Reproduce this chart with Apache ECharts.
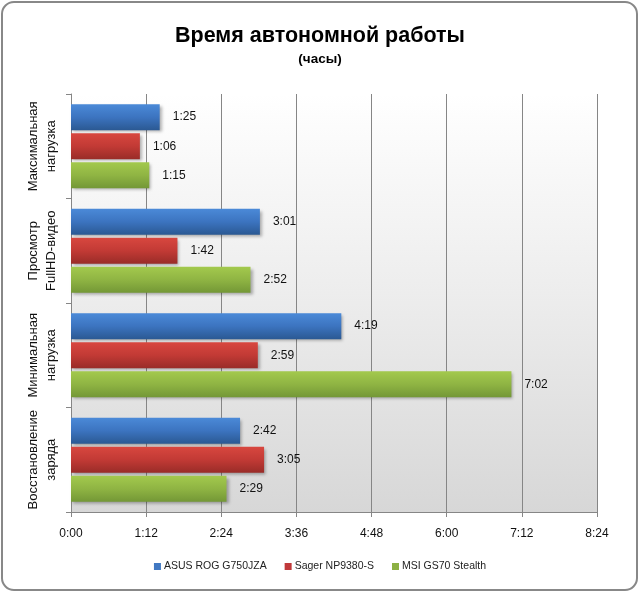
<!DOCTYPE html>
<html>
<head>
<meta charset="utf-8">
<script src="https://cdn.jsdelivr.net/npm/echarts@6/dist/echarts.min.js"></script>
<style>
  html, body { margin: 0; padding: 0; background: #fff; }
  #chart { width: 640px; height: 593px; }
</style>
</head>
<body>
<div id="chart"></div>
<script>
// категории сверху вниз
const categories = ["Максимальная\nнагрузка", "Просмотр\nFullHD-видео", "Минимальная\nнагрузка", "Восстановление\nзаряда"];
// значения в минутах
const asusValues = [85, 181, 259, 162];   // 1:25, 3:01, 4:19, 2:42
const sagerValues = [66, 102, 179, 185];  // 1:06, 1:42, 2:59, 3:05
const msiValues = [75, 172, 422, 149];    // 1:15, 2:52, 7:02, 2:29
const seriesNames = ["ASUS ROG G750JZA", "Sager NP9380-S", "MSI GS70 Stealth"];
const axisMax = 504;   // 8:24
const axisStep = 72;   // 1:12

const fmtTime = v => {
  const h = Math.floor(v / 60);
  const m = Math.round(v % 60);
  return h + ":" + (m < 10 ? "0" + m : m);
};

const grad = stops => ({
  type: "linear", x: 0, y: 0, x2: 0, y2: 1,
  colorStops: stops.map((c, i) => ({ offset: i / (stops.length - 1), color: c }))
});

const barColors = [
  ["#4b8ad8", "#3c74c0", "#2b5993"],
  ["#d8473f", "#c23a35", "#992c28"],
  ["#a3c94d", "#8fb443", "#739736"]
];
const legendColors = ["#4178c2", "#c0393a", "#8cb043"];

const makeSeries = (name, data, idx) => ({
  name: name,
  type: "bar",
  data: data,
  barWidth: 26,
  barGap: "12%",
  itemStyle: {
    color: grad(barColors[idx]),
    shadowColor: "rgba(0,0,0,0.3)",
    shadowBlur: 3,
    shadowOffsetX: 2,
    shadowOffsetY: 2
  },
  label: {
    show: true,
    position: "right",
    distance: 13,
    color: "#111",
    fontFamily: "Liberation Sans",
    fontSize: 12,
    formatter: p => fmtTime(p.value)
  }
});

const myChart = echarts.init(document.getElementById("chart"), null, { renderer: "canvas" });
const option = {
  animation: false,
  backgroundColor: "#fff",
  color: legendColors,
  title: {
    text: "Время автономной работы",
    subtext: "(часы)",
    left: "center",
    top: 20,
    itemGap: 5,
    textStyle: { fontFamily: "Liberation Sans", fontSize: 21.5, fontWeight: "bold", color: "#000" },
    subtextStyle: { fontFamily: "Liberation Sans", fontSize: 13.5, fontWeight: "bold", color: "#000" }
  },
  legend: {
    data: seriesNames.map((n, i) => ({ name: n, itemStyle: { color: legendColors[i] } })),
    left: "center",
    top: 556,
    icon: "rect",
    itemWidth: 7,
    itemHeight: 7,
    itemGap: 18,
    textStyle: { fontFamily: "Liberation Sans", fontSize: 10.5, color: "#222", padding: [0, 0, 0, -2] }
  },
  grid: {
    left: 71,
    right: 43,
    top: 94,
    bottom: 81,
    show: true,
    borderWidth: 0,
    backgroundColor: grad(["#ffffff", "#ececec", "#d7d7d7"])
  },
  xAxis: {
    type: "value",
    min: 0,
    max: axisMax,
    interval: axisStep,
    axisLine: { show: true, lineStyle: { color: "#868686", width: 1 } },
    axisTick: { show: true, length: 5, lineStyle: { color: "#868686" } },
    splitLine: { show: true, lineStyle: { color: "#868686", width: 1 } },
    axisLabel: {
      margin: 16,
      color: "#111",
      fontFamily: "Liberation Sans",
      fontSize: 12,
      formatter: v => fmtTime(v)
    }
  },
  yAxis: {
    type: "category",
    data: categories,
    inverse: true,
    axisLine: { show: true, lineStyle: { color: "#868686", width: 1 } },
    axisTick: { show: true, interval: 0, length: 5, lineStyle: { color: "#868686" } },
    splitLine: { show: false },
    axisLabel: {
      interval: 0,
      rotate: 90,
      margin: 11,
      align: "center",
      verticalAlign: "bottom",
      lineHeight: 18,
      color: "#111",
      fontFamily: "Liberation Sans",
      fontSize: 13
    }
  },
  series: [
    makeSeries(seriesNames[0], asusValues, 0),
    makeSeries(seriesNames[1], sagerValues, 1),
    makeSeries(seriesNames[2], msiValues, 2)
  ],
  graphic: [{
    type: "rect",
    shape: { x: 2, y: 2, width: 635, height: 588, r: 12 },
    style: { fill: null, stroke: "#888", lineWidth: 2 },
    silent: true
  }]
};
myChart.setOption(option);
</script>
</body>
</html>
